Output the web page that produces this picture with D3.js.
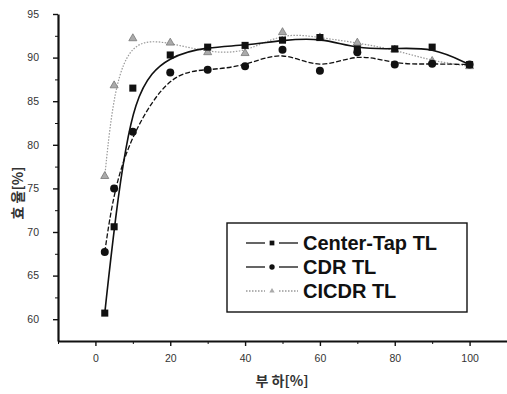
<!DOCTYPE html>
<html>
<head>
<meta charset="utf-8">
<script src="https://cdn.jsdelivr.net/npm/d3@7"></script>
<style>
  body { margin: 0; background: #fff; }
  text { font-family: "Liberation Sans", Arial, sans-serif; }
</style>
</head>
<body>
<div id="chart"></div>
<script>
// load values
var loads = [2.5, 5, 10, 20, 30, 40, 50, 60, 70, 80, 90, 100];
var centerTap = [60.7, 70.6, 86.5, 90.3, 91.2, 91.4, 92.0, 92.3, 91.0, 91.0, 91.2, 89.2];
var cdr = [67.7, 75.0, 81.5, 88.3, 88.6, 89.0, 90.9, 88.5, 90.6, 89.2, 89.3, 89.2];
var cicdr = [76.4, 86.8, 92.2, 91.7, 90.6, 90.5, 92.9, 92.3, 91.7, 90.9, 89.6, 89.0];
var seriesNames = ["Center-Tap TL", "CDR TL", "CICDR TL"];
var xTicks = [0, 20, 40, 60, 80, 100];
var yTicks = [60, 65, 70, 75, 80, 85, 90, 95];

var width = 507, height = 394;

var svg = d3.select("#chart")
    .append("svg")
    .attr("width", width)
    .attr("height", height);

var x = d3.scaleLinear().domain([-10, 110]).range([58, 507]);
var y = d3.scaleLinear().domain([57.5, 95]).range([341, 14]);

// minor ticks first, then major
svg.append("g")
    .attr("transform", "translate(0,341)")
    .call(d3.axisBottom(x).tickValues(d3.range(-10, 111, 20)).tickSize(3).tickFormat(""))
    .call(function (g) { g.select(".domain").remove(); });
svg.append("g")
    .attr("transform", "translate(58,0)")
    .call(d3.axisLeft(y).tickValues(d3.range(62.5, 95, 5)).tickSize(3).tickFormat(""))
    .call(function (g) { g.select(".domain").remove(); });

var xAxis = svg.append("g")
    .attr("transform", "translate(0,341)")
    .call(d3.axisBottom(x).tickValues(xTicks).tickSize(5).tickSizeOuter(0).tickPadding(9));
var yAxis = svg.append("g")
    .attr("transform", "translate(58,0)")
    .call(d3.axisLeft(y).tickValues(yTicks).tickSize(5).tickSizeOuter(0).tickPadding(14));

[xAxis, yAxis].forEach(function (g) {
    g.select(".domain").attr("stroke-width", 2.2).attr("stroke", "#111");
    g.selectAll(".tick line").attr("stroke-width", 1.4).attr("stroke", "#111");
    g.selectAll(".tick text")
        .style("font-size", "10.5px")
        .style("font-family", "'Liberation Sans', Arial, sans-serif")
        .attr("fill", "#333");
});
svg.selectAll("g .tick line").attr("stroke", "#111");

// axis titles
svg.append("text")
    .attr("x", 282).attr("y", 386)
    .attr("text-anchor", "middle")
    .style("font-size", "14px")
    .style("font-weight", "bold")
    .style("font-family", "'Noto Sans CJK KR', sans-serif")
    .attr("fill", "#333")
    .text("부 하[%]");

svg.append("text")
    .attr("transform", "translate(23,193) rotate(-90)")
    .attr("text-anchor", "middle")
    .style("font-size", "14px")
    .style("font-weight", "bold")
    .style("font-family", "'Noto Sans CJK KR', sans-serif")
    .attr("fill", "#333")
    .text("효 율[%]");

var series = [
    { name: seriesNames[0], values: centerTap, color: "#111", dash: null, width: 1.6, shape: d3.symbolSquare, fill: "#111", size: 50 },
    { name: seriesNames[1], values: cdr, color: "#111", dash: "5,2", width: 1.3, shape: d3.symbolCircle, fill: "#111", size: 50 },
    { name: seriesNames[2], values: cicdr, color: "#999", dash: "1.5,1.5", width: 1.2, shape: d3.symbolTriangle, fill: "#aaa", size: 28 }
];

var line = d3.line()
    .x(function (d) { return x(d[0]); })
    .y(function (d) { return y(d[1]); })
    .curve(d3.curveBasis);

series.slice().reverse().forEach(function (s) {
    var pts = loads.map(function (l, i) { return [l, s.values[i]]; });
    svg.append("path")
        .datum(pts)
        .attr("d", line)
        .attr("fill", "none")
        .attr("stroke", s.color)
        .attr("stroke-width", s.width)
        .attr("stroke-dasharray", s.dash);
    svg.append("g")
        .selectAll("path")
        .data(pts)
        .enter()
        .append("path")
        .attr("transform", function (d) { return "translate(" + x(d[0]) + "," + y(d[1]) + ")"; })
        .attr("d", d3.symbol().type(s.shape).size(s.size))
        .attr("fill", s.fill)
        .attr("stroke", s.shape === d3.symbolTriangle ? "#777" : "none")
        .attr("stroke-width", 0.8);
});

// legend
var legend = svg.append("g");
legend.append("rect")
    .attr("x", 227).attr("y", 223)
    .attr("width", 240).attr("height", 89)
    .attr("fill", "#fff")
    .attr("stroke", "#111")
    .attr("stroke-width", 1.4);

series.forEach(function (s, i) {
    var ly = 243 + i * 24;
    [[246, 265], [279, 298]].forEach(function (seg) {
        legend.append("line")
            .attr("x1", seg[0]).attr("x2", seg[1])
            .attr("y1", ly).attr("y2", ly)
            .attr("stroke", s.color)
            .attr("stroke-width", 1.3)
            .attr("stroke-dasharray", i === 2 ? "1.5,1.5" : null);
    });
    legend.append("path")
        .attr("transform", "translate(272," + ly + ")")
        .attr("d", d3.symbol().type(s.shape).size(s.size * 0.45))
        .attr("fill", s.fill);
    legend.append("text")
        .attr("x", 303).attr("y", ly + 7)
        .style("font-size", "20px")
        .style("font-weight", "bold")
        .attr("fill", "#111")
        .text(s.name);
});
</script>
</body>
</html>
